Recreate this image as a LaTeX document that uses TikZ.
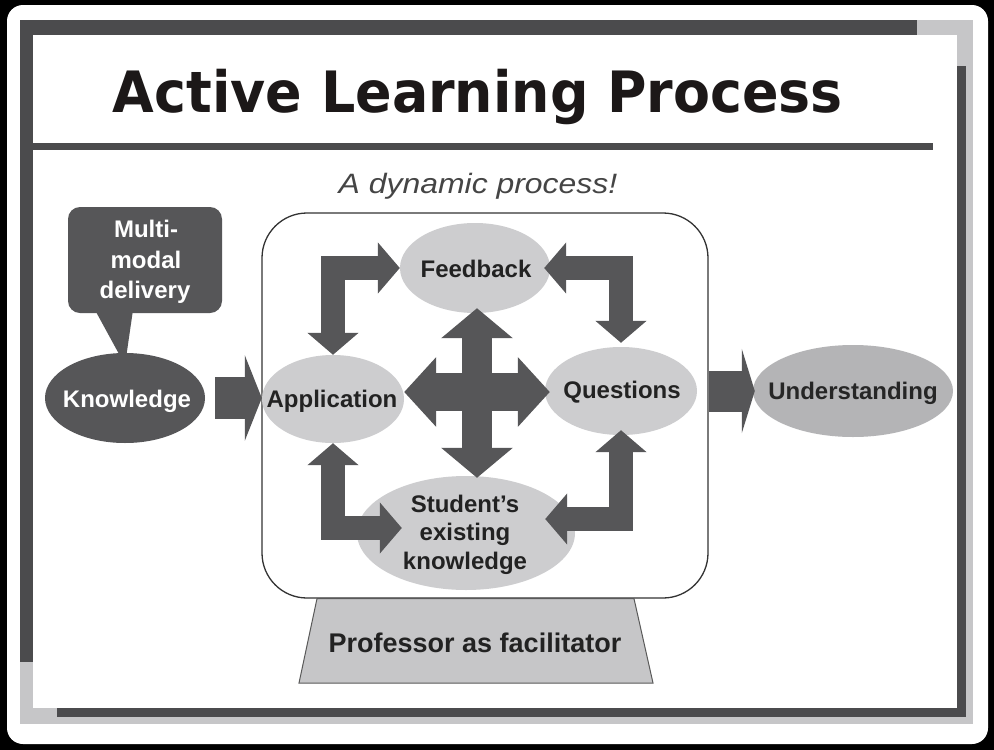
\documentclass[tikz,border=0pt]{standalone}
\usepackage{graphicx}
\usepackage{fontspec}
\setmainfont{Liberation Sans}
\newfontfamily\titlefont{DejaVu Sans}
\usetikzlibrary{arrows.meta,shapes.geometric,calc}
\definecolor{dk}{HTML}{565658}
\definecolor{lt}{HTML}{CDCDCF}
\definecolor{mid}{HTML}{B4B4B6}
\definecolor{frl}{HTML}{C6C6C8}
\definecolor{frd}{HTML}{4B4B4D}
\definecolor{txt}{HTML}{222222}
\definecolor{ttl}{HTML}{1C1818}
\definecolor{sub}{HTML}{454545}
\begin{document}
\begin{tikzpicture}[x=1pt,y=-1pt,
  ell/.style={ellipse, inner sep=0pt},
  lbl/.style={font=\fontsize{24}{29}\selectfont\bfseries, text=txt, inner sep=0pt, anchor=base},
  wlbl/.style={lbl, text=white},
  elbow/.style={draw=dk, line width=24pt, line join=miter,
    {Triangle[length=22pt,width=50pt]}-{Triangle[length=22pt,width=50pt]}},
  crossv/.style={draw=dk, line width=30pt,
    {Triangle[length=30pt,width=70pt]}-{Triangle[length=30pt,width=70pt]}},
  crossh/.style={draw=dk, line width=38pt,
    {Triangle[length=32pt,width=68pt]}-{Triangle[length=32pt,width=68pt]}},
]
\useasboundingbox (0,0) rectangle (994,750);
% background and frame
\fill[black] (0,0) rectangle (994,750);
\fill[white, rounded corners=16pt] (7,5) rectangle (988,744);
\fill[frl] (20,20) rectangle (973,724);
\fill[white] (33,35) rectangle (957,708);
\fill[frd] (20,20) rectangle (917,35);
\fill[frd] (20,20) rectangle (33,662);
\fill[frd] (957,66) rectangle (966,717);
\fill[frd] (57,708) rectangle (966,717);
\fill[frd] (33,143) rectangle (933,150);

% title
\node[anchor=base, inner sep=0pt, text=ttl] (title) at (478,112)
  {\scalebox{0.945}[1]{\titlefont\bfseries\fontsize{57}{60}\selectfont Active Learning Process}};
\node[anchor=base, inner sep=0pt, text=sub] (subtitle) at (478,193)
  {\scalebox{1.14}[1]{\itshape\fontsize{28}{30}\selectfont A dynamic process!}};

% main box and pedestal
\node[draw=black!80, line width=1.3pt, fill=white, rounded corners=45pt,
  minimum width=446pt, minimum height=385pt] (box) at (485,405.5) {};
\draw[fill=frl, draw=black!65, line width=1pt]
  (box.south -| 317,0) -- (box.south -| 634,0) -- (653,683) -- (299,683) -- cycle;

% callout and knowledge
\node[fill=dk, rounded corners=12pt, minimum width=154pt, minimum height=106pt] (mm) at (145,260) {};
\fill[dk] (95,310) -- (133,310) -- (125,365) -- cycle;
\node[ell, fill=dk, minimum width=160pt, minimum height=90pt] (kn) at (125,398) {};

% ellipses
\node[ell, fill=lt, minimum width=150pt, minimum height=90pt] (fb) at (475,268) {};
\node[ell, fill=lt, minimum width=142pt, minimum height=88pt] (app) at (333,399) {};
\node[ell, fill=lt, minimum width=152pt, minimum height=88pt] (q) at (621,391) {};
\node[ell, fill=lt, minimum width=218pt, minimum height=114pt] (st) at (466,533) {};
\node[ell, fill=mid, minimum width=200pt, minimum height=92pt] (und) at (853,391) {};

% arrows
\draw[draw=dk, line width=42pt, -{Triangle[length=17pt,width=85pt]}]
  ([xshift=10pt]kn.east) -- (kn.east -| app.west);
\draw[draw=dk, line width=41pt, -{Triangle[length=13pt,width=84pt]}]
  (und.west -| box.east) -- ([xshift=2pt]und.west);
\draw[elbow] (app.north) |- (fb.west);
\draw[elbow] ([xshift=-6pt]fb.east) -| ([yshift=4pt]q.north);
\draw[elbow] (app.south) |- ([xshift=45pt,yshift=5pt]st.west);
\draw[elbow] ([xshift=-30pt,yshift=14pt]st.east) -| ([yshift=5pt]q.south);
\coordinate (c) at (477,392);
\draw[crossv] ([yshift=5pt]c |- fb.south) -- ([yshift=-2pt]c |- st.north);
\draw[crossh] (app.east |- c) -- ([xshift=5pt]q.west |- c);

% texts
\node[wlbl] (mm1) at (146,237) {Multi-};
\node[wlbl] (mm2) at (146,268) {modal};
\node[wlbl] (mm3) at (145,298) {delivery};
\node[wlbl] (knT) at (127,407) {Knowledge};
\node[lbl] (fbT) at (476,277) {Feedback};
\node[lbl] (appT) at (332,407) {Application};
\node[lbl] (qT) at (622,398) {Questions};
\node[lbl] (st1) at (465,512) {Student’s};
\node[lbl] (st2) at (465,540) {existing};
\node[lbl] (st3) at (465,569) {knowledge};
\node[lbl, text=black!85] (undT) at (853,399) {Understanding};
\node[anchor=base, inner sep=0pt, text=txt, font=\fontsize{27}{30}\selectfont\bfseries] (prof) at (475,652) {Professor as facilitator};
\end{tikzpicture}
\end{document}
